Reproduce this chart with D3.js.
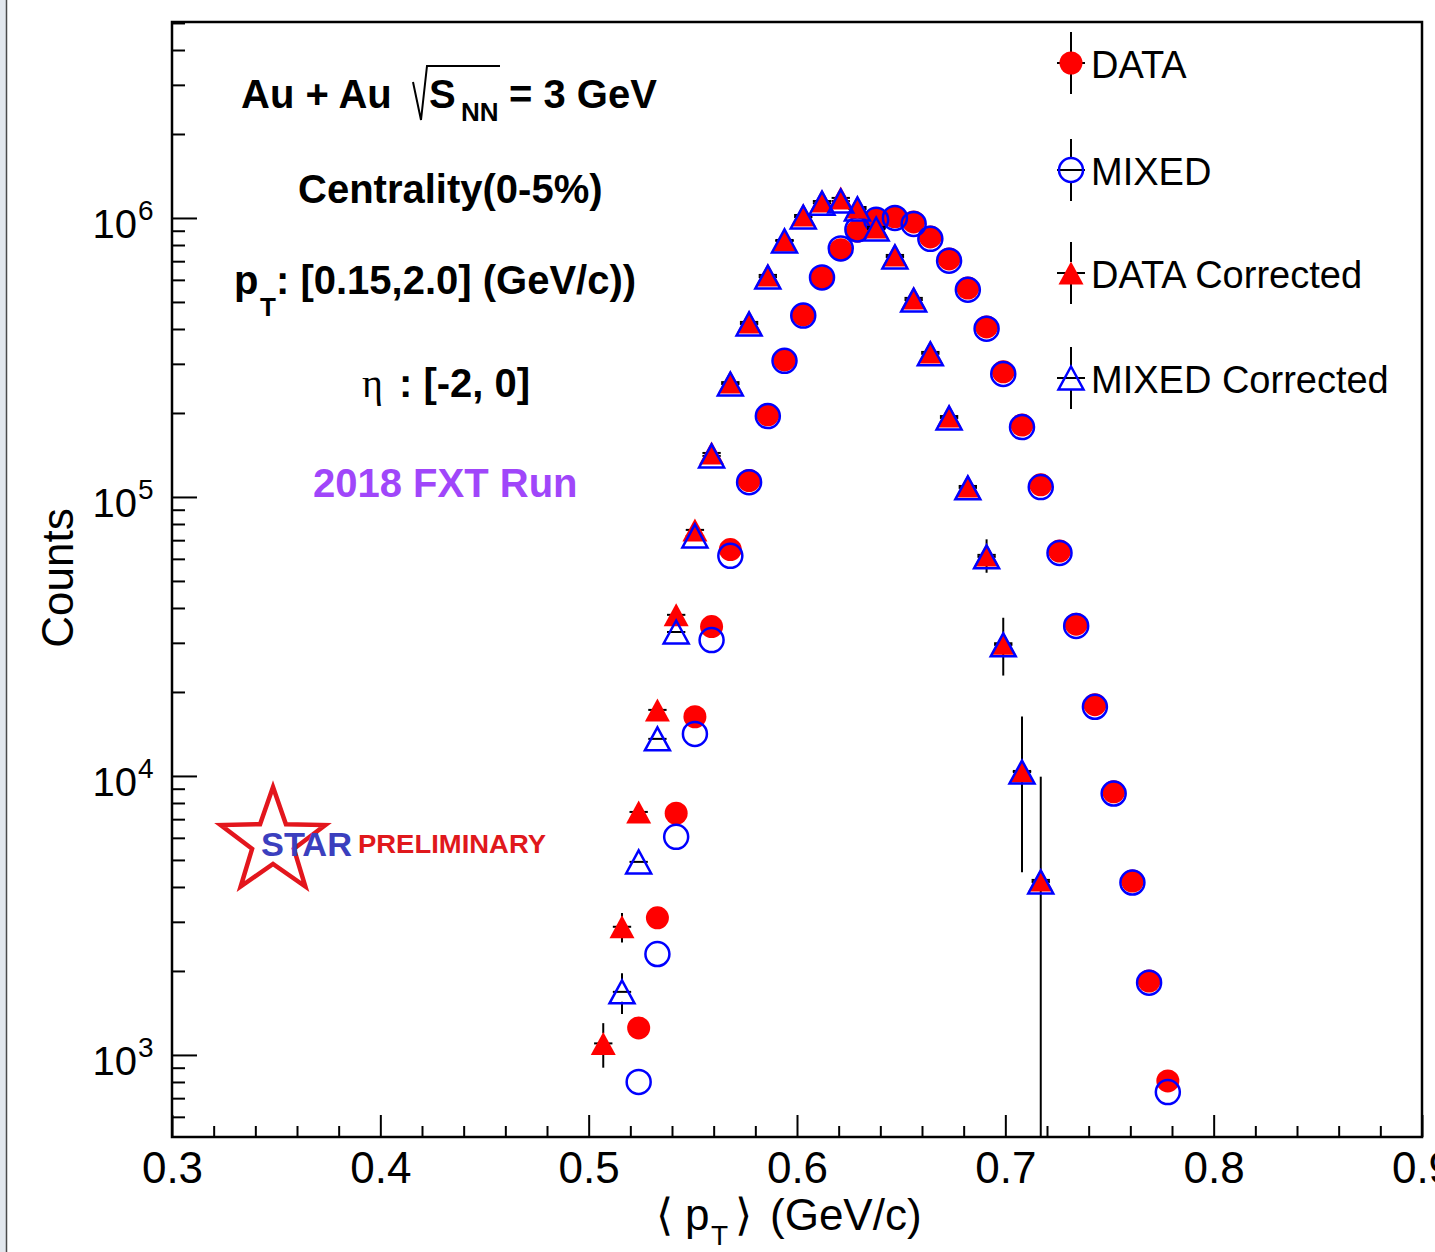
<!DOCTYPE html>
<html>
<head>
<meta charset="utf-8">
<script src="https://cdn.jsdelivr.net/npm/d3@7"></script>
<style>
  html, body { margin: 0; padding: 0; background: #fff; }
  svg { display: block; }
</style>
</head>
<body>
<svg id="chart" width="1435" height="1252"></svg>
<script>
// <pT> bin centres (GeV/c)
const ptBins = [0.507, 0.516, 0.524, 0.533, 0.542, 0.551, 0.559, 0.568, 0.577, 0.586,
                0.594, 0.603, 0.612, 0.621, 0.629, 0.638, 0.647, 0.656, 0.664, 0.673,
                0.682, 0.691, 0.699, 0.708, 0.717, 0.726, 0.734, 0.743, 0.752, 0.761,
                0.769, 0.778];
const binHalfWidth = 0.0044;

// event counts per bin (null = empty bin)
const dataCounts = [null, null, 1250, 3100, 7350, 16300, 34300, 64800, 114500, 197000,
                    310000, 449000, 610000, 770000, 898000, 983000, 1010000, 968000, 855000, 713000,
                    561000, 407000, 281000, 181000, 110500, 64000, 35000, 18000, 8770, 4200,
                    1840, 807];
const mixedCounts = [null, null, 800, 2300, 6050, 14150, 30700, 61500, 113000, 195000,
                     307500, 447000, 612000, 778000, 910000, 985000, 1000000, 952000, 842000, 703000,
                     553000, 401000, 276000, 178000, 108500, 63000, 34500, 17700, 8650, 4150,
                     1815, 736];
const dataCorrected = [1100, 2880, 7430, 17250, 37800, 76200, 143800, 258000, 424000, 625000,
                       834000, 1025000, 1150000, 1180000, 1095000, 929000, 737000, 517000, 331000, 195000,
                       109500, 62000, 29900, 10420, 4240, null, null, null, null, null,
                       null, null];
const dataCorrectedErr = [200, 350, 0, 0, 0, 0, 0, 0, 0, 0,
                          0, 0, 0, 0, 0, 0, 0, 0, 0, 0,
                          0, 8500, 7000, 5900, 5700, 0, 0, 0, 0, 0,
                          0, 0];
const mixedCorrected = [null, 1683, 4920, 13580, 32800, 72500, 140300, 254000, 417000, 614000,
                        827000, 1008000, 1130000, 1150000, 1077000, 913000, 725000, 508000, 326000, 192000,
                        107800, 61000, 29500, 10330, 4170, null, null, null, null, null,
                        null, null];
const mixedCorrectedErr = [0, 280, 0, 0, 0, 0, 0, 0, 0, 0,
                           0, 0, 0, 0, 0, 0, 0, 0, 0, 0,
                           0, 0, 0, 0, 0, 0, 0, 0, 0, 0,
                           0, 0];

// axes
const xMajorTicks = [0.3, 0.4, 0.5, 0.6, 0.7, 0.8, 0.9];
const xMinorTicks = [0.32, 0.34, 0.36, 0.38, 0.42, 0.44, 0.46, 0.48, 0.52, 0.54, 0.56, 0.58,
                     0.62, 0.64, 0.66, 0.68, 0.72, 0.74, 0.76, 0.78, 0.82, 0.84, 0.86, 0.88];
const yDecadeExponents = [3, 4, 5, 6];
const xRange = [0.3, 0.9];
const yRange = [508, 5.04e6];

const legendLabels = ["DATA", "MIXED", "DATA Corrected", "MIXED Corrected"];

// ---------------------------------------------------------------------------
const SANS = "'Liberation Sans', Arial, Helvetica, sans-serif";
const RED = "#ff0000", BLUE = "#0000ff";
const frame = { left: 172, right: 1422, top: 22, bottom: 1137 };

const svg = d3.select("#chart");

// window edge at the far left
svg.append("rect").attr("x", 0).attr("y", 0).attr("width", 6).attr("height", 1252).attr("fill", "#e2e7ed");
svg.append("line").attr("x1", 6.5).attr("x2", 6.5).attr("y1", 0).attr("y2", 1252)
  .attr("stroke", "#4a4a4a").attr("stroke-width", 1.5);

const x = d3.scaleLinear().domain(xRange).range([frame.left, frame.right]);
const y = d3.scaleLog().domain(yRange).range([frame.bottom, frame.top]);

// ---- x axis
const xAxisG = svg.append("g").attr("transform", `translate(0,${frame.bottom})`)
  .call(d3.axisBottom(x).tickValues(xMajorTicks).tickSize(-22).tickPadding(15)
        .tickFormat(d3.format(".1f")));
xAxisG.select(".domain").remove();
xAxisG.selectAll(".tick line").attr("stroke", "#000").attr("stroke-width", 2);
xAxisG.selectAll(".tick text").attr("font-family", SANS).attr("font-size", 44).attr("fill", "#000");

const xMinorG = svg.append("g").attr("transform", `translate(0,${frame.bottom})`)
  .call(d3.axisBottom(x).tickValues(xMinorTicks).tickSize(-11).tickFormat(""));
xMinorG.select(".domain").remove();
xMinorG.selectAll(".tick line").attr("stroke", "#000").attr("stroke-width", 2);

// ---- y axis (log)
const yMajor = yDecadeExponents.map(e => Math.pow(10, e));
const yMinor = [];
for (let e = 2; e <= 6; e++) {
  for (let k = 2; k <= 9; k++) {
    const v = k * Math.pow(10, e);
    if (v > yRange[0] && v < yRange[1]) yMinor.push(v);
  }
}
const yAxisG = svg.append("g").attr("transform", `translate(${frame.left},0)`)
  .call(d3.axisLeft(y).tickValues(yMajor).tickSize(-25).tickFormat(""));
yAxisG.select(".domain").remove();
yAxisG.selectAll(".tick line").attr("stroke", "#000").attr("stroke-width", 2);
const yMinorG = svg.append("g").attr("transform", `translate(${frame.left},0)`)
  .call(d3.axisLeft(y).tickValues(yMinor).tickSize(-13).tickFormat(""));
yMinorG.select(".domain").remove();
yMinorG.selectAll(".tick line").attr("stroke", "#000").attr("stroke-width", 2);

const yLabels = svg.append("g").attr("font-family", SANS).attr("fill", "#000");
yDecadeExponents.forEach(e => {
  const ty = y(Math.pow(10, e));
  yLabels.append("text").attr("x", 137).attr("y", ty + 20).attr("text-anchor", "end")
    .attr("font-size", 40).text("10");
  yLabels.append("text").attr("x", 138).attr("y", ty + 2).attr("text-anchor", "start")
    .attr("font-size", 28).text(String(e));
});

// ---- frame
svg.append("rect").attr("x", frame.left).attr("y", frame.top)
  .attr("width", frame.right - frame.left).attr("height", frame.bottom - frame.top)
  .attr("fill", "none").attr("stroke", "#000").attr("stroke-width", 2.5);

// ---- axis titles
svg.append("text").attr("transform", "translate(73,578) rotate(-90)")
  .attr("text-anchor", "middle").attr("font-family", SANS).attr("font-size", 44).text("Counts");

const xt = svg.append("g").attr("font-family", SANS).attr("font-size", 44).attr("fill", "#000");
xt.append("text").attr("x", 656).attr("y", 1230).attr("font-family", "'DejaVu Sans', sans-serif")
  .attr("font-weight", 200).text("\u27E8");
xt.append("text").attr("x", 685).attr("y", 1230).text("p");
xt.append("text").attr("x", 711).attr("y", 1245).attr("font-size", 28).text("T");
xt.append("text").attr("x", 735).attr("y", 1230).attr("font-family", "'DejaVu Sans', sans-serif")
  .attr("font-weight", 200).text("\u27E9");
xt.append("text").attr("x", 770).attr("y", 1230).text("(GeV/c)");

// ---- data
const series = (vals, errs) => ptBins.map((p, i) => ({ p, v: vals[i], e: errs ? errs[i] : 0 }))
  .filter(d => d.v != null);

const triPath = (cx, cy) =>
  `M${cx - 12.5},${cy + 11.5}L${cx + 12.5},${cy + 11.5}L${cx},${cy - 11.5}Z`;

const plot = svg.append("g");

// red filled circles
plot.append("g").selectAll("circle").data(series(dataCounts)).join("circle")
  .attr("cx", d => x(d.p)).attr("cy", d => y(d.v)).attr("r", 11.5).attr("fill", RED);

// blue open circles
plot.append("g").selectAll("circle").data(series(mixedCounts)).join("circle")
  .attr("cx", d => x(d.p)).attr("cy", d => y(d.v)).attr("r", 12)
  .attr("fill", "none").attr("stroke", BLUE).attr("stroke-width", 2.5);

// error bars of the corrected spectra
function drawErrors(data) {
  const g = plot.append("g").attr("stroke", "#000").attr("stroke-width", 2);
  data.forEach(d => {
    const cx = x(d.p), cy = y(d.v);
    g.append("line").attr("x1", x(d.p - binHalfWidth)).attr("x2", x(d.p + binHalfWidth))
      .attr("y1", cy).attr("y2", cy);
    if (d.e > 0) {
      const top = y(d.v + d.e);
      const bot = d.v - d.e > yRange[0] ? y(d.v - d.e) : frame.bottom;
      if (top < cy - 10) g.append("line").attr("x1", cx).attr("x2", cx).attr("y1", top).attr("y2", cy - 10);
      if (bot > cy + 10) g.append("line").attr("x1", cx).attr("x2", cx).attr("y1", cy + 10).attr("y2", bot);
    }
  });
}
const dataCorrSeries = series(dataCorrected, dataCorrectedErr);
const mixedCorrSeries = series(mixedCorrected, mixedCorrectedErr);
drawErrors(dataCorrSeries);
drawErrors(mixedCorrSeries);

// red filled triangles
plot.append("g").selectAll("path").data(dataCorrSeries).join("path")
  .attr("d", d => triPath(x(d.p), y(d.v))).attr("fill", RED);

// blue open triangles
plot.append("g").selectAll("path").data(mixedCorrSeries).join("path")
  .attr("d", d => triPath(x(d.p), y(d.v)))
  .attr("fill", "none").attr("stroke", BLUE).attr("stroke-width", 2.5).attr("stroke-linejoin", "miter");

// ---- legend
const legendY = [63, 170, 273, 378];
const legendX = 1071;
const lg = svg.append("g");
legendLabels.forEach((lab, i) => {
  const cy = legendY[i];
  const g = lg.append("g");
  g.append("line").attr("x1", legendX).attr("x2", legendX).attr("y1", cy - 31).attr("y2", cy - 11)
    .attr("stroke", "#000").attr("stroke-width", 2);
  g.append("line").attr("x1", legendX).attr("x2", legendX).attr("y1", cy + 11).attr("y2", cy + 31)
    .attr("stroke", "#000").attr("stroke-width", 2);
  g.append("line").attr("x1", legendX - 14).attr("x2", legendX + 14).attr("y1", cy).attr("y2", cy)
    .attr("stroke", "#000").attr("stroke-width", 2);
  if (i === 0) g.append("circle").attr("cx", legendX).attr("cy", cy).attr("r", 11.5).attr("fill", RED);
  if (i === 1) g.append("circle").attr("cx", legendX).attr("cy", cy).attr("r", 12)
    .attr("fill", "none").attr("stroke", BLUE).attr("stroke-width", 2.5);
  if (i === 2) g.append("path").attr("d", triPath(legendX, cy)).attr("fill", RED);
  if (i === 3) g.append("path").attr("d", triPath(legendX, cy))
    .attr("fill", "none").attr("stroke", BLUE).attr("stroke-width", 2.5);
  g.append("text").attr("x", 1091).attr("y", cy + 15).attr("font-family", SANS)
    .attr("font-size", 38).attr("fill", "#000").text(lab);
});

// ---- collision / selection labels
const ann = svg.append("g").attr("font-family", SANS).attr("font-weight", "bold")
  .attr("font-size", 40).attr("fill", "#000");
ann.append("text").attr("x", 241).attr("y", 108).text("Au + Au");
svg.append("path").attr("d", "M413,82 L421,120 L427,66 L500,66")
  .attr("fill", "none").attr("stroke", "#000").attr("stroke-width", 2);
ann.append("text").attr("x", 429).attr("y", 108).text("S");
ann.append("text").attr("x", 461).attr("y", 121).attr("font-size", 26).text("NN");
ann.append("text").attr("x", 509).attr("y", 108).text("= 3 GeV");

ann.append("text").attr("x", 298).attr("y", 203).text("Centrality(0-5%)");

ann.append("text").attr("x", 234).attr("y", 294).text("p");
ann.append("text").attr("x", 260).attr("y", 316).attr("font-size", 26).text("T");
ann.append("text").attr("x", 276).attr("y", 294).text(": [0.15,2.0] (GeV/c))");

ann.append("text").attr("x", 362).attr("y", 397).attr("font-family", "'Liberation Serif', 'DejaVu Serif', serif")
  .attr("font-weight", "normal").text("\u03B7");
ann.append("text").attr("x", 399).attr("y", 397).text(": [-2, 0]");

ann.append("text").attr("x", 313).attr("y", 497).attr("fill", "#a046fa").text("2018 FXT Run");

// ---- STAR preliminary mark
const starC = [273, 842], Ro = 55, Ri = 22;
const starPts = d3.range(10).map(k => {
  const a = -Math.PI / 2 + k * Math.PI / 5;
  const r = k % 2 === 0 ? Ro : Ri;
  return [starC[0] + r * Math.cos(a), starC[1] + r * Math.sin(a)];
});
svg.append("path").attr("d", d3.line()(starPts) + "Z")
  .attr("fill", "#fff").attr("stroke", "#e3161d").attr("stroke-width", 4.5).attr("stroke-linejoin", "miter");
svg.append("text").attr("x", 261).attr("y", 856).attr("font-family", SANS).attr("font-weight", "bold")
  .attr("font-size", 33).attr("fill", "#3b3fbe").attr("textLength", 91).attr("lengthAdjust", "spacingAndGlyphs")
  .text("STAR");
svg.append("text").attr("x", 358).attr("y", 853).attr("font-family", SANS).attr("font-weight", "bold")
  .attr("font-size", 25).attr("fill", "#e0181c").attr("textLength", 188).attr("lengthAdjust", "spacingAndGlyphs")
  .text("PRELIMINARY");
</script>
</body>
</html>
